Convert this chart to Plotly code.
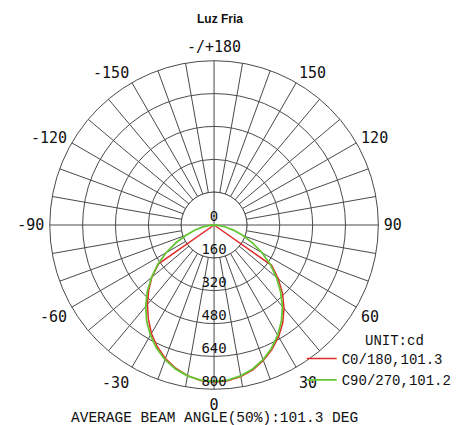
import plotly.graph_objects as go

# ---- data ----
ANGLES = [-90, -85, -80, -75, -70, -65, -60, -55, -50, -45, -40, -35, -30, -25, -20, -15, -10, -5,
          0, 5, 10, 15, 20, 25, 30, 35, 40, 45, 50, 55, 60, 65, 70, 75, 80, 85, 90]
C0_180 = [0, 0, 0, 0, 0, 0, 0, 330, 395, 450, 505, 558, 610, 654, 692, 722, 745, 760,
          766, 762, 750, 730, 702, 668, 628, 583, 530, 472, 408, 342, 0, 0, 0, 0, 0, 0, 0]
C90_270 = [0, 20, 55, 98, 145, 205, 270, 335, 398, 460, 518, 572, 620, 662, 698, 726, 746, 758,
           762, 758, 746, 726, 698, 662, 620, 572, 518, 458, 396, 334, 270, 206, 150, 100, 56, 20, 0]
RINGS = [160, 320, 480, 640, 800]
RADIAL_LABELS = ["0", "160", "320", "480", "640", "800"]
RADIAL_VALUES = [0, 160, 320, 480, 640, 800]
ANGLE_TICKS = [0, 30, 60, 90, 120, 150, 180, 210, 240, 270, 300, 330]
ANGLE_TEXT = ["0", "30", "60", "90", "120", "150", "-/+180", "-150", "-120", "-90", "-60", "-30"]
SERIES_NAMES = ["C0/180,101.3", "C90/270,101.2"]

GRID = "#4a4a4a"
MONO = "DejaVu Sans Mono"
SERIF_MONO = "Courier New, Liberation Mono, monospace"

grid_vals = list(range(0, 360, 10))
grid_text = [ANGLE_TEXT[ANGLE_TICKS.index(v)] if v in ANGLE_TICKS else "" for v in grid_vals]

fig = go.Figure()

# white inner disc hiding spokes inside first ring
disc_theta = list(range(0, 361, 5))
fig.add_trace(go.Scatterpolar(r=[RINGS[0]] * len(disc_theta), theta=disc_theta, mode="lines",
                              fill="toself", fillcolor="white", line=dict(color=GRID, width=1),
                              showlegend=False, hoverinfo="skip"))
# cross lines through centre
fig.add_trace(go.Scatterpolar(r=[RINGS[0], 0, RINGS[0]], theta=[90, 0, 270], mode="lines",
                              line=dict(color=GRID, width=1), showlegend=False, hoverinfo="skip"))
fig.add_trace(go.Scatterpolar(r=[RINGS[0], 0, RINGS[0]], theta=[180, 0, 0], mode="lines",
                              line=dict(color=GRID, width=1), showlegend=False, hoverinfo="skip"))

fig.add_trace(go.Scatterpolar(r=C0_180, theta=ANGLES, mode="lines", name=SERIES_NAMES[0],
                              line=dict(color="#e02a2a", width=1.5)))
fig.add_trace(go.Scatterpolar(r=C90_270, theta=ANGLES, mode="lines", name=SERIES_NAMES[1],
                              line=dict(color="#66c533", width=1.8)))

# radial labels along the 0 ray
fig.add_trace(go.Scatterpolar(r=RADIAL_VALUES, theta=[0] * len(RADIAL_VALUES), mode="text",
                              text=RADIAL_LABELS, textposition="top center",
                              textfont=dict(family=MONO, size=14, color="#111"),
                              showlegend=False, hoverinfo="skip"))

fig.update_layout(
    width=457, height=425, autosize=False,
    margin=dict(l=0, r=0, t=0, b=0),
    paper_bgcolor="white",
    polar=dict(
        domain=dict(x=[50 / 457, 380 / 457], y=[35 / 425, 365 / 425]),
        bgcolor="white",
        angularaxis=dict(rotation=-90, direction="counterclockwise", tickmode="array",
                         tickvals=grid_vals, ticktext=grid_text, showgrid=True,
                         gridcolor=GRID, gridwidth=1, showline=True, linecolor=GRID,
                         linewidth=1, ticks="outside", ticklen=2, tickcolor="rgba(0,0,0,0)",
                         tickfont=dict(family=MONO, size=15, color="#111")),
        radialaxis=dict(range=[0, 800], tickvals=RINGS, showticklabels=False, ticks="",
                        showline=False, showgrid=True, gridcolor=GRID, gridwidth=1),
    ),
    showlegend=True,
    legend=dict(x=303 / 457, y=(425 - 343) / 425, xanchor="left", yanchor="top",
                bgcolor="rgba(0,0,0,0)", font=dict(family=SERIF_MONO, size=14, color="#111"),
                tracegroupgap=0),
    annotations=[
        dict(text="<b>Luz Fria</b>", x=221 / 457, y=(425 - 19) / 425, xref="paper", yref="paper",
             xanchor="center", yanchor="middle", showarrow=False,
             font=dict(family="Liberation Sans, Arial", size=12, color="#111")),
        dict(text="UNIT:cd", x=396 / 457, y=(425 - 341) / 425, xref="paper", yref="paper",
             xanchor="center", yanchor="middle", showarrow=False,
             font=dict(family=SERIF_MONO, size=14, color="#111")),
        dict(text="AVERAGE BEAM ANGLE(50%):101.3 DEG", x=215 / 457, y=(425 - 418) / 425,
             xref="paper", yref="paper", xanchor="center", yanchor="middle", showarrow=False,
             font=dict(family=SERIF_MONO, size=14.5, color="#111")),
    ],
)

fig.write_html("out.html", post_script="document.body.style.margin='0';",
               config={"displayModeBar": False})
